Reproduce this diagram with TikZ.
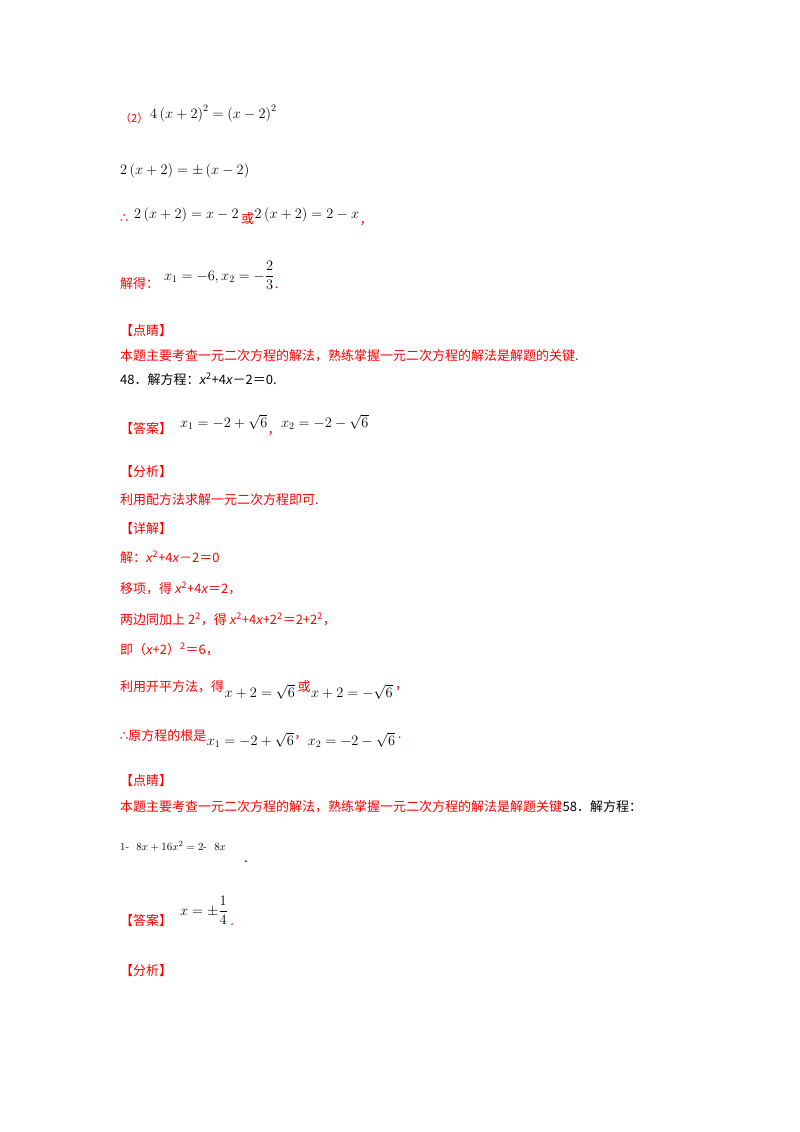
\documentclass[tikz,border=0pt]{standalone}
\usepackage{fontspec}
\newfontfamily\cjk{Noto Sans CJK SC}
\newfontfamily\dv{DejaVu Sans}
\newfontfamily\ls{Liberation Sans}
\newcommand\myx{{\ls\itshape x}}
\definecolor{rd}{RGB}{255,0,0}
\begin{document}
\begin{tikzpicture}[x=1pt,y=-1pt,
  t/.style={anchor=base west,inner sep=0pt,text=rd,font=\cjk\fontsize{13}{15}\selectfont},
  b/.style={anchor=base west,inner sep=0pt,text=black,font=\cjk\fontsize{13}{15}\selectfont},
  m/.style={anchor=base west,inner sep=0pt,text=black,font=\fontsize{14}{16}\selectfont}]
\useasboundingbox[fill=white] (0,0) rectangle (800,1132);
\node[t,font=\cjk\fontsize{11}{13}\selectfont] (a1) at (120,122) {（2）};
\node[m] (a2) at (150,118) {$4\left(x+2\right)^2=\left(x-2\right)^2$};
\node[m] (b1) at (120,174) {$2\left(x+2\right)=\pm\left(x-2\right)$};
\node[t] (c0) at (120,222) {\dv ∴};
\node[m] (c1) at (134,218) {$2\left(x+2\right)=x-2$};
\node[t] (c2) at ([yshift=-5pt]c1.base east) {\,或};
\node[m] (c3) at ([yshift=5pt]c2.base east) {$2\left(x+2\right)=2-x$};
\node[t] (c4) at ([yshift=-6pt]c3.base east) {，};
\node[t] (d0) at (120,288) {解得：};
\node[m] (d1) at (164,280) {$\displaystyle x_1=-6,x_2=-\frac{2}{3}$};
\node[t] (d2) at ([yshift=-8pt]d1.base east) {.};
\node[t] (e0) at (120,335) {【点睛】};
\node[t] (e1) at (120,360) {本题主要考查一元二次方程的解法，熟练掌握一元二次方程的解法是解题的关键.};
\node[b] (f0) at (120,384) {48．解方程：\myx\textsuperscript{2}+4\myx－2＝0.};
\node[t] (g0) at (120,433) {【答案】};
\node[m] (g1) at (180,427) {$x_1=-2+\sqrt6$};
\node[t] (g2) at ([yshift=-7pt]g1.base east) {，};
\node[m] (g3) at ([yshift=7pt]g2.base east) {$x_2=-2-\sqrt6$};
\node[t] (h0) at (120,476) {【分析】};
\node[t] (h1) at (120,504) {利用配方法求解一元二次方程即可.};
\node[t] (h2) at (120,533) {【详解】};
\node[t] (i1) at (120,562) {解：\myx\textsuperscript{2}+4\myx－2＝0};
\node[t] (i2) at (120,593) {移项，得 \myx\textsuperscript{2}+4\myx＝2，};
\node[t] (i3) at (120,624) {两边同加上 2\textsuperscript{2}，得 \myx\textsuperscript{2}+4\myx+2\textsuperscript{2}＝2+2\textsuperscript{2}，};
\node[t] (i4) at (120,654) {即（\myx+2）\textsuperscript{2}＝6，};
\node[t] (j0) at (120,691) {利用开平方法，得};
\node[m] (j1) at ([yshift=-6pt]j0.base east) {$x+2=\sqrt6$};
\node[t] (j2) at ([yshift=6pt]j1.base east) {\,或};
\node[m] (j3) at ([yshift=-6pt]j2.base east) {$x+2=-\sqrt6$};
\node[t] (j4) at ([yshift=8pt]j3.base east) {\,，};
\node[t] (k0) at (120,740) {\dv ∴\cjk 原方程的根是};
\node[m] (k1) at ([yshift=-5pt]k0.base east) {$x_1=-2+\sqrt6$};
\node[t] (k2) at ([yshift=7pt]k1.base east) {，};
\node[m] (k3) at ([yshift=-7pt]k2.base east) {$x_2=-2-\sqrt6$};
\node[t] (k4) at ([yshift=7pt]k3.base east) {\,.};
\node[t] (l0) at (120,785) {【点睛】};
\node[t] (l1) at (120,811) {本题主要考查一元二次方程的解法，熟练掌握一元二次方程的解法是解题关键};
\node[b] (l2) at (l1.base east) {58．解方程：};
\node[m,font=\fontsize{11}{13}\selectfont] (n1) at (120,850) {1-\ \ $8x+16x^2=2$-\ \ $8x$};
\node[b] (n2) at (244,862) {.};
\node[t] (o0) at (120,925) {【答案】};
\node[m] (o1) at (180,915) {$\displaystyle x=\pm\frac{1}{4}$};
\node[t] (o2) at ([yshift=-10pt]o1.base east) {\,.};
\node[t] (p0) at (120,975) {【分析】};
\end{tikzpicture}
\end{document}
